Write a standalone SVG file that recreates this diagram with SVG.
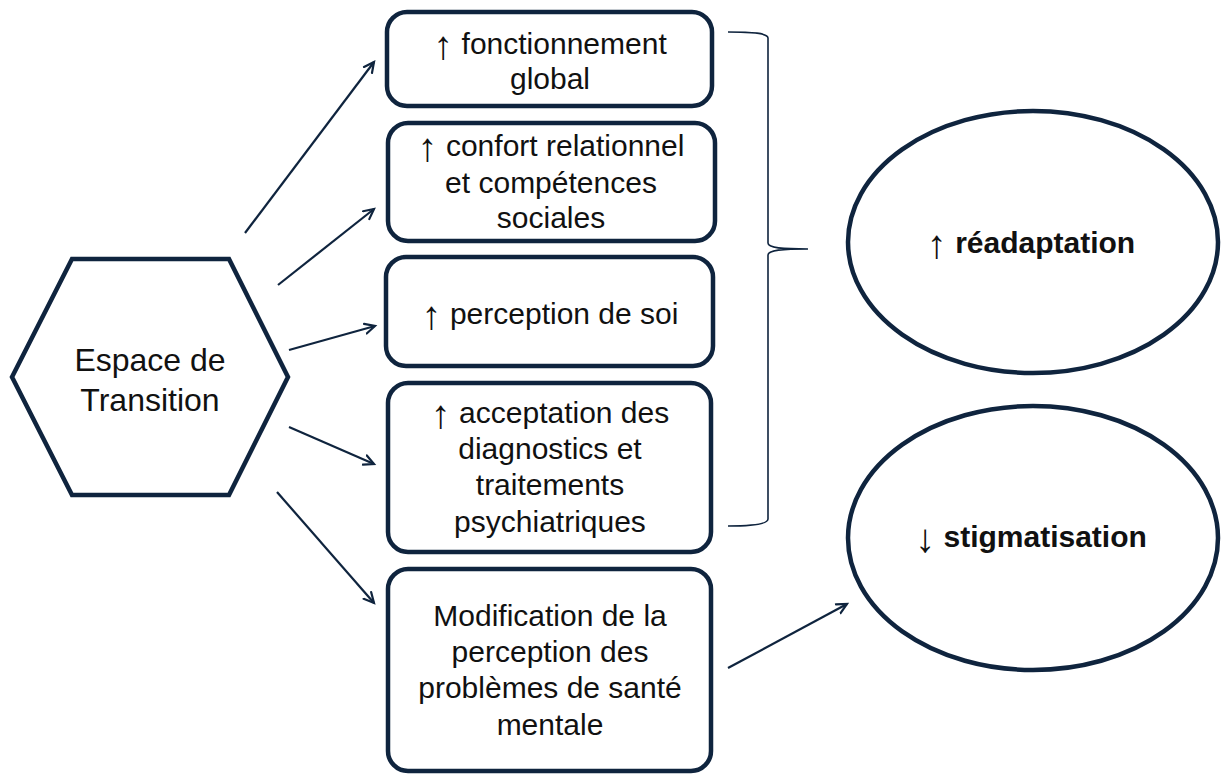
<svg xmlns="http://www.w3.org/2000/svg" width="1225" height="774" viewBox="0 0 1225 774">
<defs>
<marker id="arr" markerUnits="userSpaceOnUse" markerWidth="14" markerHeight="14" refX="11" refY="6" orient="auto" viewBox="0 0 14 12">
<path d="M1,1 L11,6 L1,11" fill="none" stroke="#0F243E" stroke-width="2.2" stroke-linecap="round" stroke-linejoin="miter"/>
</marker>
<style>
.box{fill:#fff;stroke:#0F243E;stroke-width:4.5}
.t{font-family:"Liberation Sans",Arial,sans-serif;font-size:30px;fill:#111;text-anchor:middle}
.h{font-size:32px}
.b{font-weight:bold}
.ar{font-size:40px;font-weight:normal}
.c{stroke:#0F243E;stroke-width:2.2;fill:none;marker-end:url(#arr)}
.brace{stroke:#0F243E;stroke-width:1.6;fill:none}
</style>
</defs>
<rect width="1225" height="774" fill="#fff"/>
<g id="hexagon">
<polygon class="box" stroke-width="5" points="12,377 72,259 229,259 288,377 229,495 72,495"/>
<text class="t h" x="150" y="371">Espace de</text>
<text class="t h" x="150" y="411">Transition</text>
</g>
<g id="box1">
<rect class="box" x="387" y="12" width="325" height="94" rx="20"/>
<text class="t" x="550" y="54"><tspan class="ar" dy="5">↑</tspan><tspan dy="-5"> fonctionnement</tspan></text>
<text class="t" x="550" y="89">global</text>
</g>
<g id="box2">
<rect class="box" x="388" y="123" width="327" height="118" rx="20"/>
<text class="t" x="551" y="156"><tspan class="ar" dy="5">↑</tspan><tspan dy="-5"> confort relationnel</tspan></text>
<text class="t" x="551" y="193">et compétences</text>
<text class="t" x="551" y="228">sociales</text>
</g>
<g id="box3">
<rect class="box" x="386" y="257" width="327" height="109" rx="20"/>
<text class="t" x="550" y="324"><tspan class="ar" dy="5">↑</tspan><tspan dy="-5"> perception de soi</tspan></text>
</g>
<g id="box4">
<rect class="box" x="388" y="383" width="323" height="169" rx="20"/>
<text class="t" x="550" y="423"><tspan class="ar" dy="5">↑</tspan><tspan dy="-5"> acceptation des</tspan></text>
<text class="t" x="550" y="459">diagnostics et</text>
<text class="t" x="550" y="495">traitements</text>
<text class="t" x="550" y="532">psychiatriques</text>
</g>
<g id="box5">
<rect class="box" x="388" y="569" width="323" height="202" rx="20"/>
<text class="t" x="550" y="626">Modification de la</text>
<text class="t" x="550" y="662">perception des</text>
<text class="t" x="550" y="698">problèmes de santé</text>
<text class="t" x="550" y="735">mentale</text>
</g>
<g id="ellipse1">
<ellipse class="box" cx="1033" cy="242" rx="185" ry="131"/>
<text class="t b" x="1031" y="253"><tspan class="ar" dy="5">↑</tspan><tspan dy="-5"> réadaptation</tspan></text>
</g>
<g id="ellipse2">
<ellipse class="box" cx="1033" cy="538" rx="185" ry="132"/>
<text class="t b" x="1031" y="547"><tspan class="ar" dy="5">↓</tspan><tspan dy="-5"> stigmatisation</tspan></text>
</g>
<g id="connectors">
<line class="c" x1="245" y1="233" x2="374" y2="62"/>
<line class="c" x1="278" y1="285" x2="374" y2="209"/>
<line class="c" x1="289" y1="350" x2="375" y2="326"/>
<line class="c" x1="289" y1="427" x2="374" y2="464"/>
<line class="c" x1="277" y1="492" x2="374" y2="603"/>
<line class="c" x1="728" y1="668" x2="847" y2="604"/>
<path class="brace" d="M728,32 C752,32 768,33 768,38 L768,243 C768,248 782,249 808,249 C782,249 768,250 768,255 L768,519 C768,524 752,526 728,526"/>
</g>
</svg>
